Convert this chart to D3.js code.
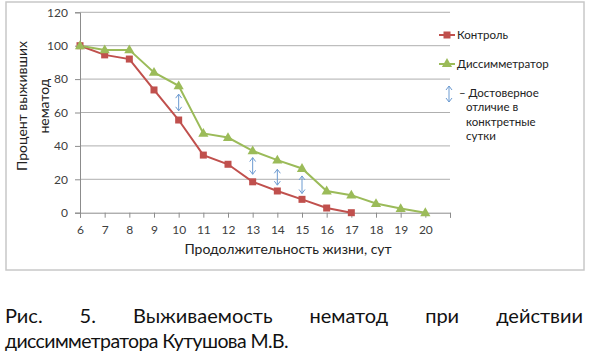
<!DOCTYPE html>
<html>
<head>
<meta charset="utf-8">
<script src="https://cdn.jsdelivr.net/npm/d3@7"></script>
<style>
  body { margin:0; background:#fff; font-family:Lato, "Open Sans", sans-serif; }
  #canvas { position:relative; width:591px; height:358px; }
  .caption { position:absolute; left:5px; width:578px; font-size:19.5px; color:#111;
             letter-spacing:-0.6px; line-height:25px; text-align:left; top:303px; }
  .line1 { text-align:justify; text-align-last:justify; letter-spacing:0; font-size:20px; }
  .axis text { font-family:Lato, "Open Sans", sans-serif; font-size:12px; fill:#404040; }
</style>
</head>
<body>
<div id="canvas"></div>
<script>
// data
var days = [6,7,8,9,10,11,12,13,14,15,16,17,18,19,20];
var control = [100,94.5,92,73.5,55.5,34.5,29,18.5,13,8,2.8,0];
var dissym = [100,97.5,97.5,84,76,47.5,45,37,31.5,26.5,13,10.5,5.5,2.5,0];
var signifDays = [10,13,14,15];
var signifLo = [61,23,16.5,11.5];
var signifHi = [71,33,26,22];
var yTicks = [0,20,40,60,80,100,120];

var W = 591, H = 358;

var svg = d3.select('#canvas').append('svg')
    .attr('width', W).attr('height', H)
    .style('position','absolute').style('left',0).style('top',0);

// chart frame
svg.append('rect').attr('x',6).attr('y',2).attr('width',578).attr('height',268)
    .attr('fill','none').attr('stroke','#c8c8c8').attr('stroke-width',1.5);

var scaleX = d3.scaleLinear().domain([6,21]).range([80,450]);
var scaleY = d3.scaleLinear().domain([0,120]).range([212.7,12.3]);

// gridlines
svg.append('g').selectAll('line').data(yTicks.slice(1)).enter().append('line')
    .attr('x1',80).attr('x2',450)
    .attr('y1',function(d){return scaleY(d);}).attr('y2',function(d){return scaleY(d);})
    .attr('stroke','#9a9a9a').attr('stroke-width',0.8);

// y axis
var axisY = d3.axisLeft(scaleY).tickValues(yTicks).tickSize(5).tickPadding(7);
var gy = svg.append('g').attr('class','axis').attr('transform','translate(80,0)').call(axisY);
gy.select('.domain').attr('stroke','#8c8c8c');
gy.selectAll('.tick line').attr('stroke','#8c8c8c');

// x axis
var axisX = d3.axisBottom(scaleX).tickValues(days.concat([21])).tickSize(5).tickPadding(8)
    .tickFormat(function(d){ return d === 21 ? '' : d; });
var gx = svg.append('g').attr('class','axis').attr('transform','translate(0,' + scaleY(0) + ')').call(axisX);
gx.select('.domain').attr('stroke','#8c8c8c');
gx.selectAll('.tick line').attr('stroke','#8c8c8c');

// axis titles
svg.append('text').attr('x',288).attr('y',254).attr('text-anchor','middle')
    .style('font-size','14px').style('fill','#222').text('Продолжительность жизни, сут');
var yt = svg.append('text').attr('transform','translate(27,106) rotate(-90)')
    .attr('text-anchor','middle').style('font-size','14px').style('fill','#222');
yt.append('tspan').attr('x',0).attr('y',0).text('Процент выживших');
yt.append('tspan').attr('x',0).attr('y',22).text('нематод');

// lines
var ctrlPts = control.map(function(v,i){ return [days[i], v]; });
var disPts = dissym.map(function(v,i){ return [days[i], v]; });
var line = d3.line().x(function(d){return scaleX(d[0]);}).y(function(d){return scaleY(d[1]);});

svg.append('path').datum(ctrlPts).attr('d',line).attr('fill','none')
    .attr('stroke','#c0504d').attr('stroke-width',2);
svg.append('path').datum(disPts).attr('d',line).attr('fill','none')
    .attr('stroke','#9bbb59').attr('stroke-width',2);

svg.append('g').selectAll('rect').data(ctrlPts).enter().append('rect')
    .attr('x',function(d){return scaleX(d[0])-3.5;}).attr('y',function(d){return scaleY(d[1])-3.5;})
    .attr('width',7).attr('height',7).attr('fill','#c0504d');

var tri = d3.symbol().type(d3.symbolTriangle).size(45);
svg.append('g').selectAll('path').data(disPts).enter().append('path')
    .attr('d',tri)
    .attr('transform',function(d){return 'translate(' + scaleX(d[0]) + ',' + (scaleY(d[1])+0.5) + ')';})
    .attr('fill','#9bbb59');

// double arrows
function dblArrow(g, x, y1, y2) {
  var a = 3;
  g.append('path')
    .attr('d','M'+x+','+y1+'V'+y2+
              'M'+(x-a)+','+(y1+a+1)+'L'+x+','+y1+'L'+(x+a)+','+(y1+a+1)+
              'M'+(x-a)+','+(y2-a-1)+'L'+x+','+y2+'L'+(x+a)+','+(y2-a-1))
    .attr('fill','none').attr('stroke','#6d9bd1').attr('stroke-width',1);
}
var ga = svg.append('g');
signifDays.forEach(function(d,i){
  dblArrow(ga, scaleX(d), scaleY(signifHi[i]), scaleY(signifLo[i]));
});

// legend
var lg = svg.append('g').style('font-size','11.5px').style('fill','#222');
lg.append('line').attr('x1',439).attr('x2',455).attr('y1',35).attr('y2',35)
    .attr('stroke','#c0504d').attr('stroke-width',2);
lg.append('rect').attr('x',443.5).attr('y',31.5).attr('width',7).attr('height',7).attr('fill','#c0504d');
lg.append('text').attr('x',457).attr('y',39).text('Контроль');
lg.append('line').attr('x1',439).attr('x2',455).attr('y1',64).attr('y2',64)
    .attr('stroke','#9bbb59').attr('stroke-width',2);
lg.append('path').attr('d',tri).attr('transform','translate(447,64)').attr('fill','#9bbb59');
lg.append('text').attr('x',457).attr('y',68).text('Диссимметратор');
dblArrow(lg, 449, 86, 102);
var lt = lg.append('text');
['– Достоверное','отличие в','конктретные','сутки'].forEach(function(s,i){
  lt.append('tspan').attr('x', i === 0 ? 459 : 466).attr('y', 97 + i*14.3).text(s);
});

// caption
var cap = d3.select('#canvas').append('div').attr('class','caption');
cap.append('div').attr('class','line1').text('Рис. 5. Выживаемость нематод при действии');
cap.append('div').text('диссимметратора Кутушова М.В.');
</script>
</body>
</html>
